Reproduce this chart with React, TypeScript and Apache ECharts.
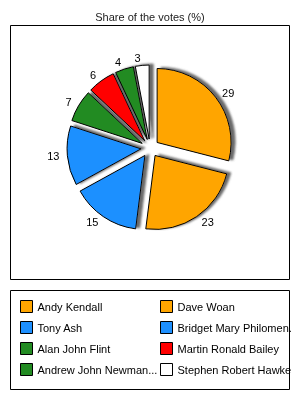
import React, { useEffect, useRef } from "react";
import * as echarts from "echarts";

const candidates = [
  "Andy Kendall",
  "Dave Woan",
  "Tony Ash",
  "Bridget Mary Philomen.",
  "Alan John Flint",
  "Martin Ronald Bailey",
  "Andrew John Newman...",
  "Stephen Robert Hawke",
];
const voteShares = [29, 23, 15, 13, 7, 6, 4, 3];
const sliceColors = ["#FFA500", "#FFA500", "#1E90FF", "#1E90FF", "#228B22", "#FF0000", "#228B22", "#FFFFFF"];
const chartTitle = "Share of the votes (%)";

const FONT = "'Liberation Sans', Arial, sans-serif";

export default function App() {
  const ref = useRef<HTMLDivElement>(null);
  useEffect(() => {
    if (!ref.current) return;
    const chart = echarts.init(ref.current, undefined, { renderer: "svg" });
    const data = candidates.map((name, i) => ({
      name,
      value: voteShares[i],
      selected: true,
      itemStyle: { color: sliceColors[i] },
    }));
    const leftNames = candidates.filter((_, i) => i % 2 === 0);
    const rightNames = candidates.filter((_, i) => i % 2 === 1);
    const legendCommon = {
      orient: "vertical" as const,
      top: 295,
      itemWidth: 12,
      itemHeight: 12,
      itemGap: 8,
      icon: "rect",
      selectedMode: false,
      itemStyle: { borderColor: "#000", borderWidth: 1 },
    };
    const textCommon = {
      fontFamily: FONT,
      fontSize: 11,
      color: "#000",
      overflow: "truncate" as const,
      ellipsis: "",
    };
    const shadow = {
      borderColor: "#000",
      borderWidth: 1,
      shadowColor: "rgba(90,90,90,0.9)",
      shadowBlur: 2,
      shadowOffsetX: 4,
      shadowOffsetY: -1,
    };
    chart.setOption({
      animation: false,
      graphic: [
        {
          type: "rect",
          z: -10,
          shape: { x: 10.5, y: 25.5, width: 279, height: 254 },
          style: { fill: "#fff", stroke: "#000", lineWidth: 1 },
        },
        {
          type: "rect",
          z: -10,
          shape: { x: 10.5, y: 290.5, width: 279, height: 99 },
          style: { fill: "#fff", stroke: "#000", lineWidth: 1 },
        },
        {
          type: "text",
          x: 150,
          y: 17,
          style: {
            text: chartTitle,
            fontFamily: FONT,
            fontSize: 11,
            fill: "#222",
            align: "center",
            verticalAlign: "middle",
          },
        },
      ],
      legend: [
        { ...legendCommon, left: 15, data: leftNames, textStyle: { ...textCommon, width: 130 } },
        { ...legendCommon, left: 155, data: rightNames, textStyle: { ...textCommon, width: 116 } },
      ],
      series: [
        {
          type: "pie",
          center: [150, 148],
          radius: 74,
          startAngle: 90,
          clockwise: true,
          selectedMode: "multiple",
          selectedOffset: 9,
          avoidLabelOverlap: false,
          emphasis: { disabled: true },
          itemStyle: shadow,
          select: { itemStyle: shadow },
          label: {
            show: true,
            position: "outside",
            formatter: "{c}",
            fontFamily: FONT,
            fontSize: 11,
            color: "#000",
            distanceToLabelLine: 1,
          },
          labelLine: { show: false, length: 7, length2: 0 },
          data,
        },
      ],
    });
    return () => chart.dispose();
  }, []);
  return (
    <div
      ref={ref}
      style={{ position: "fixed", left: 0, top: 0, width: 300, height: 400 }}
    />
  );
}
